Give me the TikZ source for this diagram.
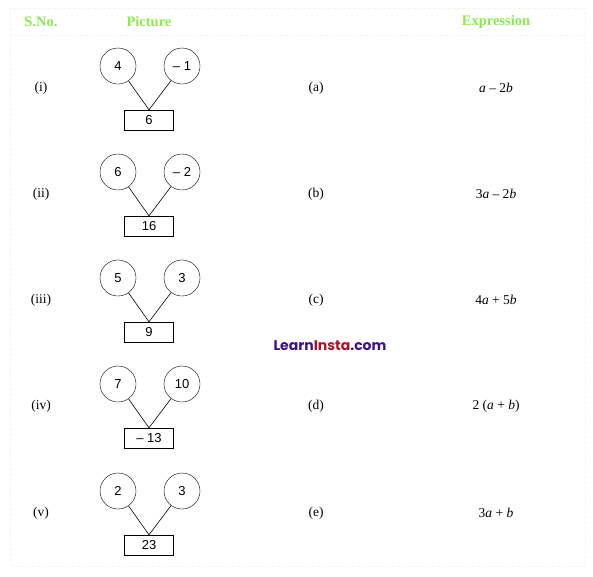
\documentclass[tikz,border=0pt]{standalone}
\usepackage{fontspec}
\setmainfont{Liberation Serif}
\setsansfont{Liberation Sans}
\newfontfamily\wmfont{Poppins}
\definecolor{hdrgreen}{RGB}{140,232,80}
\definecolor{framegreen}{RGB}{240,246,232}
\definecolor{wmpurple}{RGB}{60,20,130}
\definecolor{wmred}{RGB}{170,20,40}
\begin{document}
\begin{tikzpicture}[x=1pt,y=-1pt,
  numcircle/.style={draw,circle,minimum size=36pt,inner sep=0pt,font=\sffamily\fontsize{13}{15}\selectfont},
  numbox/.style={draw,rectangle,minimum width=49pt,minimum height=20pt,inner sep=0pt,font=\sffamily\fontsize{13}{15}\selectfont},
  conn/.style={draw,line width=0.6pt},
  lbl/.style={font=\fontsize{13.5}{15}\selectfont},
  hdr/.style={font=\bfseries\fontsize{14.5}{16}\selectfont,text=hdrgreen}]
\useasboundingbox (0,0) rectangle (593,576);
\draw[framegreen,densely dashed,line width=0.5pt] (10,8) rectangle (585,566);
\draw[framegreen,densely dashed,line width=0.5pt] (10,35) -- (585,35);
\node[hdr] (h1) at (41,22) {S.No.};
\node[hdr] (h2) at (149,22) {Picture};
\node[hdr] (h3) at (496,22) {Expression};
\foreach \i/\y/\l/\r/\b/\sn/\ab/\ex in {
  1/66/4/–~1/6/(i)/(a)/\textit{a} – 2\textit{b},
  2/172/6/–~2/16/(ii)/(b)/3\textit{a} – 2\textit{b},
  3/278/5/3/9/(iii)/(c)/4\textit{a} + 5\textit{b},
  4/384/7/10/–~13/(iv)/(d)/2 (\textit{a} + \textit{b}),
  5/491/2/3/23/(v)/(e)/3\textit{a} + \textit{b}}{
  \node[numcircle] (l\i) at (118,\y) {\l};
  \node[numcircle] (r\i) at (182,\y) {\r};
  \node[numbox] (b\i) at (149,\y+54) {\b};
  \draw[conn] (l\i) -- (b\i.north);
  \draw[conn] (r\i) -- (b\i.north);
  \node[lbl] (s\i) at (41,\y+22) {\sn};
  \node[lbl] (p\i) at (316,\y+22) {\ab};
  \node[lbl] (e\i) at (496,\y+22) {\ex};
}
\node[font=\wmfont\bfseries\fontsize{14}{16}\selectfont,inner sep=0pt] (wm) at (330,346)
  {\textcolor{wmpurple}{Learn}\textcolor{wmred}{Insta}\textcolor{wmpurple}{.com}};
\end{tikzpicture}
\end{document}
